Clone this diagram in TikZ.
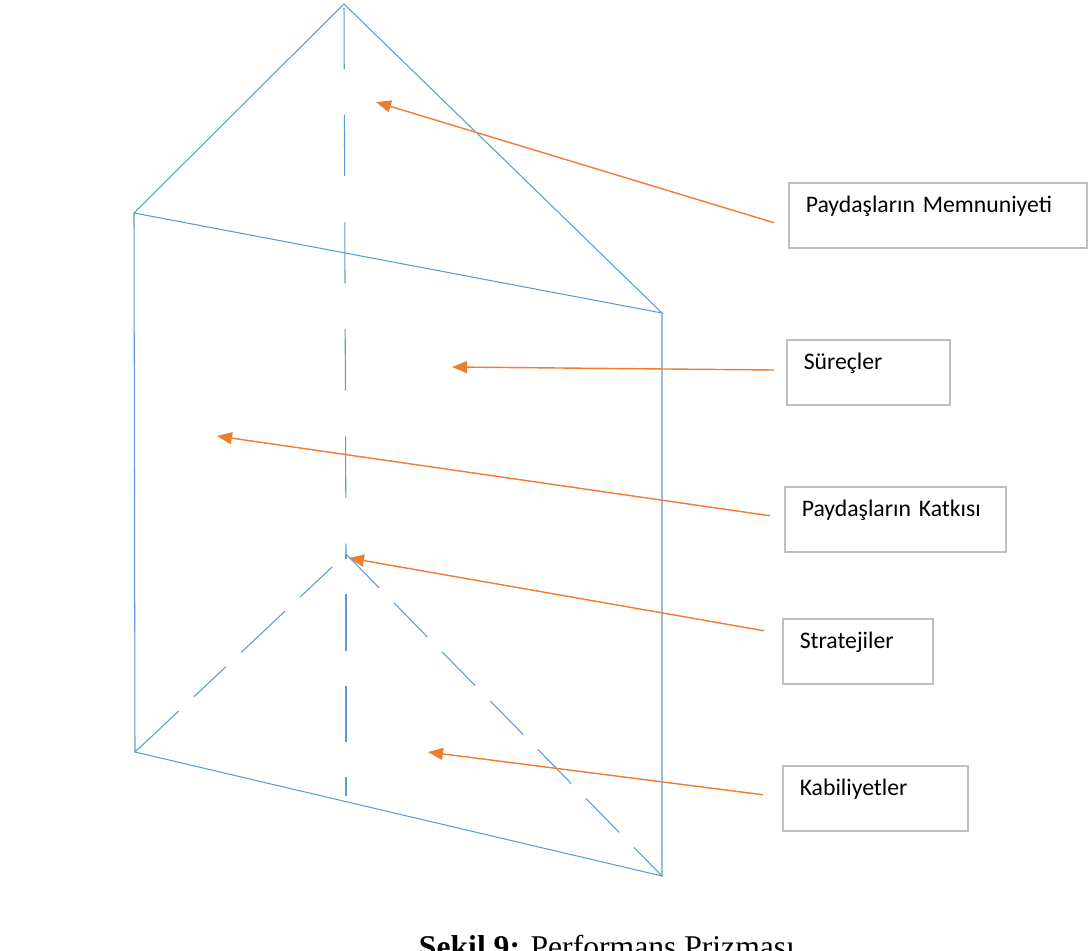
\documentclass[tikz,border=0pt]{standalone}
\usepackage{fontspec}
\setmainfont{Liberation Serif}
\newfontfamily\calibri{Carlito}
\usetikzlibrary{arrows.meta}
\definecolor{prismblue}{HTML}{5B9BD5}
\definecolor{arroworange}{HTML}{ED7D31}
\definecolor{boxgray}{HTML}{BFBFBF}

\begin{document}
\begin{tikzpicture}[x=0.2mm, y=-0.2mm,
    edge/.style={prismblue, line width=0.6pt},
    hidden/.style={edge, dash pattern=on 27pt off 12pt},
    box/.style={draw=boxgray, line width=0.3mm, anchor=north west,
                inner xsep=3.4mm, inner ysep=0pt, text height=6mm, text depth=7mm,
                align=left, font=\calibri\fontsize{13.5}{16}\selectfont},
    arr/.style={arroworange, line width=0.8pt, -{Triangle[length=3mm,width=2.4mm]}},
  ]
  \useasboundingbox (0,0) rectangle (1088,951);

  % prism corners
  \coordinate (T) at (344,4);
  \coordinate (A) at (134,213);
  \coordinate (B) at (662,313);
  \coordinate (C) at (135,752);
  \coordinate (E) at (662,876);
  \coordinate (D) at (346,554);
  \coordinate (F) at (346,796);

  \draw[edge] (A) -- (T) -- (B) -- cycle;
  \draw[edge] (A) -- (C) -- (E) -- (B);
  \draw[edge, dash pattern=on 35pt off 26pt, dash phase=-2pt] (T) -- (D);
  \draw[edge, dash pattern=on 32pt off 20pt, dash phase=29pt] (D) -- (F);
  \draw[hidden, dash pattern=on 34pt off 12pt on 25pt off 12pt] (C) -- (D);
  \draw[hidden] (D) -- (E);

  % labels
  \node[box, text width=52.8mm] (memnun) at (788,182) {Paydaşların Memnuniyeti};
  \node[box, text width=25.8mm] (surec) at (786,339) {Süreçler};
  \node[box, text width=37.4mm] (katki) at (784,486) {Paydaşların Katkısı};
  \node[box, text width=23.2mm] (strat) at (782,618) {Stratejiler};
  \node[box, text width=30.2mm] (kabil) at (782,765) {Kabiliyetler};

  % arrow tips
  \coordinate (tipM) at (376,102);
  \coordinate (tipS) at (452,367);
  \coordinate (tipK) at (217,436);
  \coordinate (tipSt) at (349,558);
  \coordinate (tipKb) at (428,752);

  \draw[arr] ([xshift=-2.8mm, yshift=-1.5mm]memnun.west) -- (tipM);
  \draw[arr] ([xshift=-2.4mm, yshift=0.45mm]surec.west) -- (tipS);
  \draw[arr] ([xshift=-2.8mm, yshift=0.7mm]katki.west) -- (tipK);
  \draw[arr] ([xshift=-3.6mm, yshift=4.1mm]strat.west) -- (tipSt);
  \draw[arr] ([xshift=-3.8mm, yshift=0.7mm]kabil.west) -- (tipKb);

  \node[anchor=base, font=\fontsize{18}{20}\selectfont] (caption) at (607,957)
    {\textbf{Şekil 9:} Performans Prizması};
\end{tikzpicture}
\end{document}
